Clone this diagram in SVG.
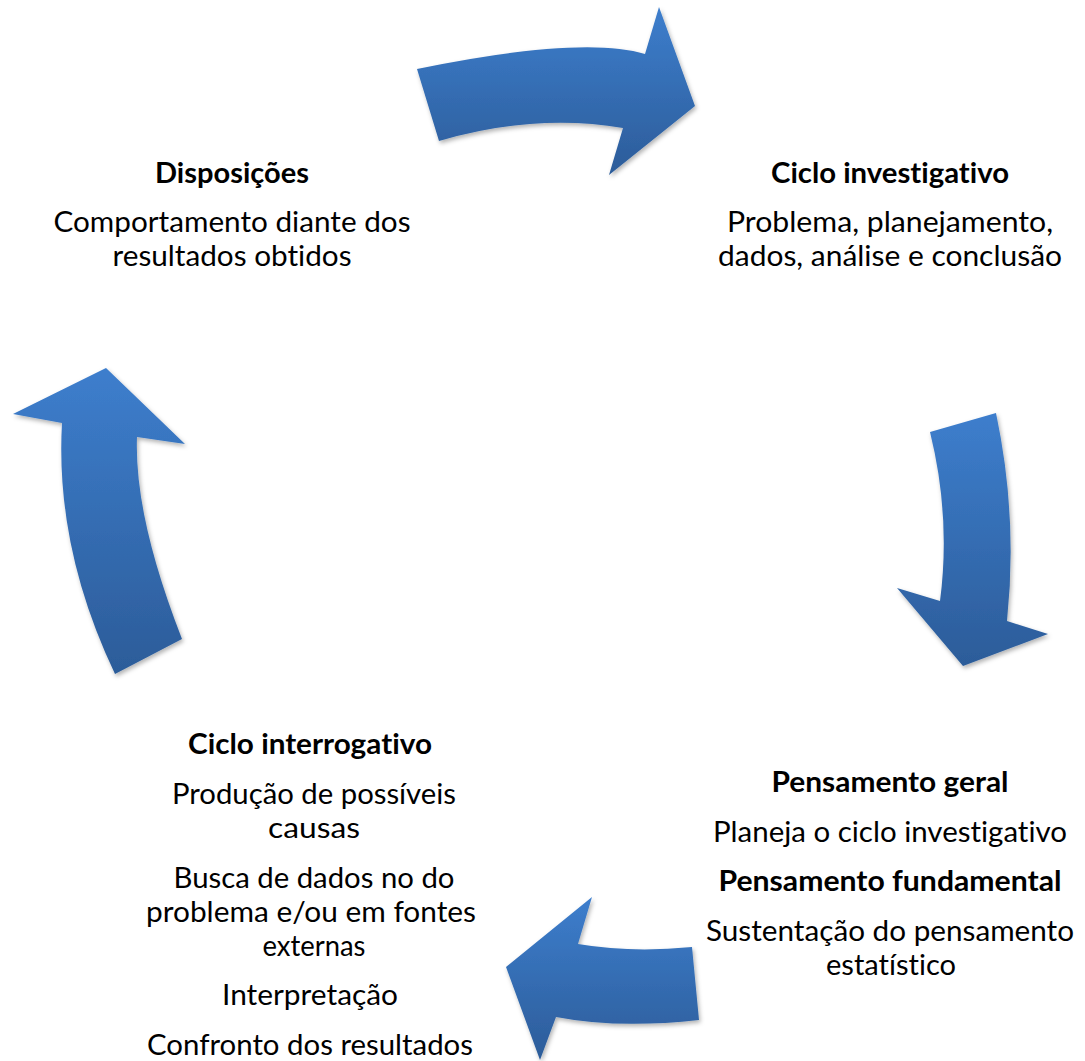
<svg xmlns="http://www.w3.org/2000/svg" width="1085" height="1061" viewBox="0 0 1085 1061">
<style>
text{font-family:Lato,"Liberation Sans",sans-serif;font-size:29px;fill:#000;text-anchor:middle;font-variant-ligatures:none;font-feature-settings:"liga" 0,"dlig" 0,"clig" 0,"calt" 0}
.b{font-weight:bold}
.arrow{fill:url(#g);filter:url(#sh)}
</style>
<defs>
<linearGradient id="g" x1="0" y1="0" x2="0" y2="1">
<stop offset="0" stop-color="#3D7ECD"/>
<stop offset="1" stop-color="#2C5C99"/>
</linearGradient>
<filter id="sh" x="-20%" y="-20%" width="140%" height="140%">
<feDropShadow dx="1.5" dy="2.5" stdDeviation="2" flood-color="#000" flood-opacity="0.3"/>
</filter>
</defs>
<rect width="1085" height="1061" fill="#fff"/>
<g id="connectors">
<path class="arrow" d="M417,69 Q583,35 645,54 L659,7 L695,106 L609,175 L623,128 Q535,113 439,141 Z"/>
<path class="arrow" d="M930,432 L996,413 Q1018,517 1007,621 L1048,634 L963,666 L897,588 L940,601 Q951,517 930,432 Z"/>
<path class="arrow" d="M692,947 L699,1020 Q618,1029 556,1017 L540,1060 L506,967 L592,897 L578,944 Q631,953 692,947 Z"/>
<path class="arrow" d="M115,674 L182,639 Q134,516 137,437 L185,444 L106,368 L13,414 L62,423 Q55,548 115,674 Z"/>
</g>
<g id="disposicoes">
<text class="b" x="232" y="183" textLength="154" lengthAdjust="spacingAndGlyphs">Disposições</text>
<text x="232" y="232" textLength="357" lengthAdjust="spacingAndGlyphs">Comportamento diante dos</text>
<text x="232" y="266" textLength="239" lengthAdjust="spacingAndGlyphs">resultados obtidos</text>
</g>
<g id="ciclo-investigativo">
<text class="b" x="890" y="183" textLength="238" lengthAdjust="spacingAndGlyphs">Ciclo investigativo</text>
<text x="890" y="232" textLength="326" lengthAdjust="spacingAndGlyphs">Problema, planejamento,</text>
<text x="890" y="266" textLength="344" lengthAdjust="spacingAndGlyphs">dados, análise e conclusão</text>
</g>
<g id="pensamento">
<text class="b" x="890" y="792" textLength="237" lengthAdjust="spacingAndGlyphs">Pensamento geral</text>
<text x="890" y="842" textLength="354" lengthAdjust="spacingAndGlyphs">Planeja o ciclo investigativo</text>
<text class="b" x="890" y="891" textLength="343" lengthAdjust="spacingAndGlyphs">Pensamento fundamental</text>
<text x="890" y="941" textLength="368" lengthAdjust="spacingAndGlyphs">Sustentação do pensamento</text>
<text x="891" y="975" textLength="130" lengthAdjust="spacingAndGlyphs">estatístico</text>
</g>
<g id="ciclo-interrogativo">
<text class="b" x="310" y="754" textLength="244" lengthAdjust="spacingAndGlyphs">Ciclo interrogativo</text>
<text x="314" y="804" textLength="284" lengthAdjust="spacingAndGlyphs">Produção de possíveis</text>
<text x="314" y="838" textLength="92" lengthAdjust="spacingAndGlyphs">causas</text>
<text x="314" y="888" textLength="281" lengthAdjust="spacingAndGlyphs">Busca de dados no do</text>
<text x="311" y="922" textLength="330" lengthAdjust="spacingAndGlyphs">problema e/ou em fontes</text>
<text x="314" y="956" textLength="103" lengthAdjust="spacingAndGlyphs">externas</text>
<text x="310" y="1005" textLength="176" lengthAdjust="spacingAndGlyphs">Interpretação</text>
<text x="310" y="1055" textLength="326" lengthAdjust="spacingAndGlyphs">Confronto dos resultados</text>
</g>
</svg>
